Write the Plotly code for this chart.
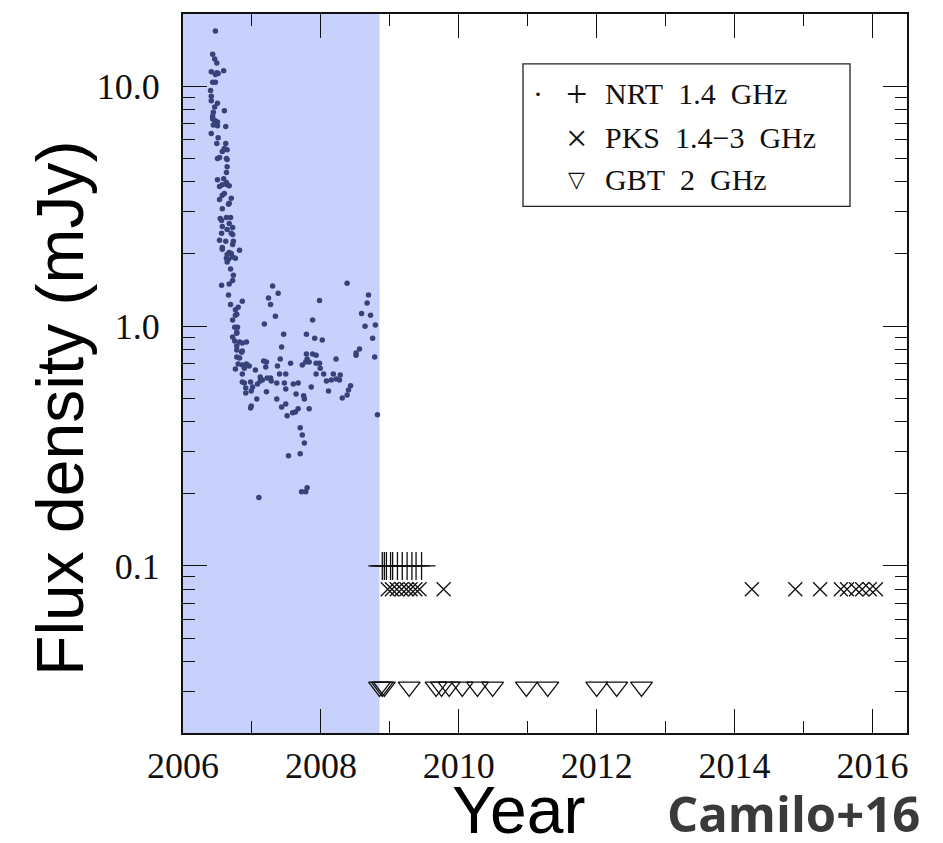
import plotly.graph_objects as go

# ---------------- data ----------------
nrt_year = [
    2006.47, 2006.43, 2006.46, 2006.49, 2006.41, 2006.49, 2006.51, 2006.59, 2006.47, 2006.43,
    2006.47, 2006.40, 2006.41, 2006.41, 2006.50, 2006.46, 2006.44, 2006.43, 2006.60, 2006.43,
    2006.46, 2006.50, 2006.44, 2006.50, 2006.62, 2006.41, 2006.51, 2006.49, 2006.62, 2006.60,
    2006.64, 2006.57, 2006.50, 2006.53, 2006.63, 2006.64, 2006.64, 2006.63,
    2006.50, 2006.59, 2006.53, 2006.57, 2006.63, 2006.67, 2006.64, 2006.60, 2006.57, 2006.70,
    2006.53, 2006.67, 2006.66, 2006.57, 2006.54, 2006.63, 2006.69, 2006.56, 2006.67, 2006.72,
    2006.57, 2006.64, 2006.70, 2006.56, 2006.72, 2006.53, 2006.62, 2006.73, 2006.72, 2006.57,
    2006.57, 2006.82, 2006.67, 2006.70, 2006.64, 2006.72, 2006.76, 2006.66, 2006.64, 2006.63,
    2006.69, 2006.73, 2006.72, 2006.67, 2006.56, 2006.66, 2006.69, 2006.86, 2006.80, 2006.76,
    2006.78, 2006.76, 2006.72, 2006.75, 2006.79, 2006.78,
    2007.30, 2007.24, 2007.27, 2007.38, 2007.34, 2007.18, 2007.46, 2007.98, 2007.88,
    2008.38, 2008.69, 2008.67, 2008.59, 2008.72, 2008.64, 2008.79,
    2006.78, 2006.72, 2006.75, 2006.78, 2006.82, 2006.86, 2006.92, 2006.78, 2006.85, 2006.86,
    2006.78, 2006.82, 2006.80, 2006.76, 2006.86, 2006.89, 2006.92, 2006.96, 2006.86, 2007.05,
    2007.17, 2007.21, 2007.20, 2006.86, 2006.89, 2006.98, 2006.91, 2007.01, 2006.99, 2006.91,
    2007.08, 2007.12, 2007.12, 2007.15, 2007.22, 2007.27, 2007.28, 2007.36, 2007.40, 2007.49,
    2007.47, 2007.49, 2007.21, 2007.07, 2006.99, 2006.98, 2007.36, 2007.43, 2007.49, 2007.51,
    2007.59, 2007.63, 2007.67, 2007.64, 2007.75, 2007.76, 2007.83, 2007.60, 2007.67, 2007.43,
    2007.56, 2007.41, 2007.37, 2007.79, 2007.91, 2008.02, 2007.79, 2007.88, 2007.93, 2007.80,
    2007.78, 2007.73, 2007.83, 2007.93, 2007.98, 2007.99, 2007.93, 2008.04, 2007.86, 2008.08,
    2008.11, 2008.22, 2008.18, 2008.22, 2008.28, 2008.27, 2008.15, 2008.31, 2008.38, 2008.40,
    2008.43, 2008.51, 2008.56, 2008.51, 2008.75, 2008.78, 2008.82, 2007.70, 2007.73, 2007.76,
    2007.70, 2007.53, 2007.72, 2007.78, 2007.80, 2007.10,
]
nrt_flux = [
    17.0, 13.6, 13.0, 12.5, 11.5, 11.4, 11.3, 11.6, 11.2, 10.4,
    10.4, 9.6, 9.1, 8.7, 8.5, 8.2, 7.8, 7.5, 7.9, 7.3,
    7.2, 7.1, 6.9, 6.85, 6.8, 6.35, 6.1, 5.77, 5.77, 5.5,
    5.44, 5.35, 5.0, 5.05, 5.0, 4.95, 4.62, 4.37,
    4.08, 4.12, 3.82, 3.89, 3.97, 3.85, 3.89, 3.57, 3.51, 3.41,
    3.37, 3.25, 3.22, 3.09, 2.81, 2.84, 2.84, 2.76, 2.68, 2.58,
    2.60, 2.53, 2.44, 2.44, 2.41, 2.28, 2.26, 2.26, 2.19, 2.13,
    2.09, 2.07, 2.03, 2.01, 1.99, 1.94, 1.92, 1.90, 1.85, 1.92,
    1.73, 1.63, 1.55, 1.50, 1.48, 1.35, 1.23, 1.27, 1.20, 1.17,
    1.12, 1.11, 1.06, 0.99, 0.99, 0.944,
    1.47, 1.31, 1.23, 1.37, 1.10, 1.02, 0.926, 1.28, 1.06,
    1.51, 1.35, 1.25, 1.13, 1.11, 1.00, 1.01,
    0.935, 0.90, 0.867, 0.826, 0.858, 0.85, 0.858, 0.795, 0.779, 0.787,
    0.743, 0.736, 0.695, 0.662, 0.688, 0.668, 0.695, 0.682, 0.631, 0.656,
    0.715, 0.708, 0.675, 0.585, 0.579, 0.585, 0.552, 0.558, 0.537, 0.526,
    0.574, 0.614, 0.590, 0.596, 0.608, 0.608, 0.590, 0.579, 0.631, 0.631,
    0.579, 0.547, 0.532, 0.497, 0.465, 0.456, 0.497, 0.460, 0.474, 0.423,
    0.435, 0.439, 0.452, 0.521, 0.512, 0.497, 0.452, 0.574, 0.579, 0.818,
    0.701, 0.729, 0.682, 0.926, 0.89, 0.875, 0.765, 0.765, 0.757, 0.729,
    0.708, 0.688, 0.708, 0.701, 0.701, 0.668, 0.631, 0.631, 0.558, 0.590,
    0.537, 0.729, 0.631, 0.602, 0.625, 0.596, 0.596, 0.502, 0.516, 0.542,
    0.564, 0.757, 0.802, 0.772, 0.89, 0.743, 0.427, 0.377, 0.352, 0.326,
    0.294, 0.288, 0.204, 0.204, 0.212, 0.193,
]

nrt_lim_year = [2008.89, 2008.92, 2008.95, 2009.01, 2009.04, 2009.11, 2009.18, 2009.25, 2009.32, 2009.38, 2009.46]
nrt_lim_flux = [0.1] * len(nrt_lim_year)

pks_lim_year = [2008.97, 2009.03, 2009.10, 2009.17, 2009.24, 2009.30, 2009.37, 2009.43, 2009.78,
                2014.25, 2014.88, 2015.24, 2015.54, 2015.63, 2015.76, 2015.85, 2015.96, 2016.05]
pks_lim_flux = [0.08] * len(pks_lim_year)

gbt_lim_year = [2008.85, 2008.89, 2008.92, 2009.28, 2009.67, 2009.75, 2009.86, 2010.05, 2010.27,
                2010.49, 2010.98, 2011.29, 2012.00, 2012.29, 2012.65]
gbt_lim_flux = [0.0313] * len(gbt_lim_year)

shade_start, shade_end = 2006.0, 2008.85

x_ticks = [2006, 2008, 2010, 2012, 2014, 2016]
x_minor = [2007, 2009, 2011, 2013, 2015]
y_ticks = [0.1, 1, 10]
y_ticktext = ["0.1", "1.0", "10.0"]
y_minor = [0.03, 0.04, 0.05, 0.06, 0.07, 0.08, 0.09,
           0.2, 0.3, 0.4, 0.5, 0.6, 0.7, 0.8, 0.9,
           2, 3, 4, 5, 6, 7, 8, 9, 20]

NB = "\u00a0\u00a0"
legend_rows = [("NRT" + NB + "1.4" + NB + "GHz", "+"),
               ("PKS" + NB + "1.4\u22123" + NB + "GHz", "\u00d7"),
               ("GBT" + NB + "2" + NB + "GHz", "\u25bd")]

# ---------------- figure ----------------
OFF = 8                      # page body margin
W, H = 943 - OFF, 843 - OFF
L, R, T, B = 183 - OFF, 36, 12 - OFF, 110
pw, ph = W - L - R, H - T - B

def px_x(p):   # page pixel -> paper x
    return (p - OFF - L) / pw

def px_y(p):   # page pixel -> paper y
    return 1 - (p - OFF - T) / ph

fig = go.Figure()

fig.add_trace(go.Scatter(x=nrt_year, y=nrt_flux, mode="markers",
                         marker=dict(size=5.5, color="#38427a"), showlegend=False))
fig.add_trace(go.Scatter(x=nrt_lim_year, y=nrt_lim_flux, mode="markers",
                         marker=dict(symbol="cross-thin", size=20, line=dict(color="#111", width=1.3)),
                         showlegend=False))
fig.add_trace(go.Scatter(x=pks_lim_year, y=pks_lim_flux, mode="markers",
                         marker=dict(symbol="x-thin", size=14, line=dict(color="#111", width=1.3)),
                         showlegend=False))
fig.add_trace(go.Scatter(x=gbt_lim_year, y=gbt_lim_flux, mode="markers",
                         marker=dict(symbol="triangle-down-open", size=19, color="#111",
                                     line=dict(color="#111", width=1.3)),
                         showlegend=False))

fig.add_shape(type="rect", xref="x", yref="paper", x0=shade_start, x1=shade_end, y0=0, y1=1,
              fillcolor="#c7d1fb", line=dict(width=0), layer="below")

# legend box
fig.add_shape(type="rect", xref="paper", yref="paper",
              x0=px_x(523), x1=px_x(850), y0=px_y(205), y1=px_y(62),
              line=dict(color="#222", width=1.3), fillcolor="rgba(0,0,0,0)")
serif = "Liberation Serif"
row_y = [92, 136, 178]
sym_size = {"+": 38, "\u00d7": 38, "\u25bd": 22}
sym_font = {"+": serif, "\u00d7": serif, "\u25bd": "DejaVu Sans"}
for (label, sym), yy in zip(legend_rows, row_y):
    fig.add_annotation(xref="paper", yref="paper", x=px_x(603), y=px_y(yy), text=label,
                       showarrow=False, xanchor="left", yanchor="middle",
                       font=dict(family=serif, size=30, color="#111"))
    fig.add_annotation(xref="paper", yref="paper", x=px_x(576), y=px_y(yy), text=sym,
                       showarrow=False, xanchor="center", yanchor="middle",
                       font=dict(family=sym_font[sym], size=sym_size[sym], color="#111"))
fig.add_annotation(xref="paper", yref="paper", x=px_x(538), y=px_y(92), text="\u00b7",
                   showarrow=False, xanchor="center", yanchor="middle",
                   font=dict(family=serif, size=30, color="#111"))

# axis titles
fig.add_annotation(xref="paper", yref="paper", x=px_x(60), y=px_y(408), text="Flux density (mJy)",
                   showarrow=False, textangle=-90, xanchor="center", yanchor="middle",
                   font=dict(family="Liberation Sans", size=66, color="#000"))
fig.add_annotation(xref="paper", yref="paper", x=px_x(518), y=px_y(810), text="Year",
                   showarrow=False, xanchor="center", yanchor="middle",
                   font=dict(family="Liberation Sans", size=66, color="#000"))
fig.add_annotation(xref="paper", yref="paper", x=px_x(922), y=px_y(813), text="<b>Camilo+16</b>",
                   showarrow=False, xanchor="right", yanchor="middle",
                   font=dict(family="Open Sans", size=49, color="#3a3a3a"))

axis_common = dict(showgrid=False, zeroline=False, showline=True, linecolor="#111", linewidth=2,
                   mirror="allticks", ticks="inside", ticklen=24, tickwidth=1.3, tickcolor="#111",
                   tickfont=dict(family=serif, size=36, color="#111"))

fig.update_xaxes(range=[2006, 2016.5], tickvals=x_ticks, ticktext=[str(v) for v in x_ticks],
                 minor=dict(tickvals=x_minor, ticks="inside", ticklen=12, tickwidth=1.3, tickcolor="#111"),
                 ticklabelstandoff=0, **axis_common)
fig.update_yaxes(type="log", range=[-1.6965, 1.3015], tickvals=y_ticks, ticktext=y_ticktext,
                 minor=dict(tickvals=y_minor, ticks="inside", ticklen=12, tickwidth=1.3, tickcolor="#111"),
                 ticklabelstandoff=14, **axis_common)

fig.update_layout(width=W, height=H, margin=dict(l=L, r=R, t=T, b=B),
                  plot_bgcolor="white", paper_bgcolor="white", showlegend=False)

fig.write_html("out.html")
